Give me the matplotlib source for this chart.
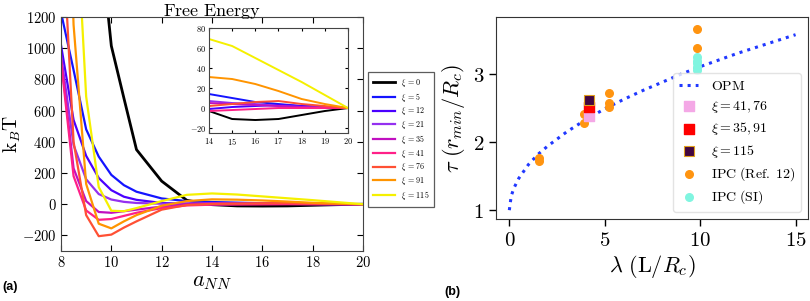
import numpy as np
import matplotlib
matplotlib.use('Agg')
import matplotlib.pyplot as plt
from matplotlib.ticker import FuncFormatter

plt.rcParams['mathtext.fontset'] = 'cm'
plt.rcParams['font.family'] = 'DejaVu Serif'

# ---- panel (a): free energy curves ----
a_nn = [8, 8.5, 9, 9.5, 10, 10.5, 11, 12, 13, 14, 15, 16, 17, 18, 19, 20]
xi_labels = ['0', '5', '12', '21', '35', '41', '76', '91', '115']
xi_colors = ['#000000', '#1414ff', '#4a00ff', '#9430f0', '#c010c0',
             '#ff2088', '#ff5034', '#ff9400', '#f5f000']
fe_0 = [9000, 6000, 3600, 1800, 1015, 680, 350, 148, 25, -3, -11, -12, -11, -7, -3, 0]
fe_5 = [1230, 860, 480, 305, 188, 122, 80, 37, 20, 14, 10, 6, 4, 2, 1, 0]
fe_12 = [1020, 540, 310, 168, 90, 48, 28, 8, 2, -1, 1, 2, 3, 2, 1, 0]
fe_21 = [960, 380, 160, 65, 30, 15, 8, 3, 5, 7, 5, 4, 2, 1, 0.5, 0]
fe_35 = [940, 230, 20, -50, -55, -45, -35, -15, 0, 5, 4, 3, 2, 1, 0.5, 0]
fe_41 = [920, 180, -40, -100, -95, -75, -55, -25, -8, -3, -2, -1, 0, 0, 0, 0]
fe_76 = [1950, 400, -70, -205, -195, -150, -110, -35, -5, 2, 4, 6, 7, 4, 2, 0]
fe_91 = [3500, 1150, 130, -125, -155, -110, -70, -10, 20, 31, 29, 24, 17, 9, 4, 0]
fe_115 = [5000, 2200, 690, 110, -42, -45, -25, 20, 60, 69, 62, 50, 38, 26, 13, 0]
fe_all = [fe_0, fe_5, fe_12, fe_21, fe_35, fe_41, fe_76, fe_91, fe_115]

# ---- panel (b): tau vs lambda ----
opm_lam = [0, 0.1, 0.25, 0.5, 1, 1.5, 2, 3, 4, 5, 6, 7, 8, 9, 10, 11, 12, 13, 14, 15]
opm_tau = [1.0, 1.21, 1.33, 1.47, 1.67, 1.82, 1.94, 2.15, 2.33, 2.49, 2.63, 2.76,
           2.88, 3.0, 3.11, 3.21, 3.31, 3.40, 3.49, 3.58]
ref12_lam = [1.57, 1.57, 3.9, 3.9, 5.23, 5.23, 5.23, 9.85, 9.85]
ref12_tau = [1.72, 1.77, 2.28, 2.42, 2.52, 2.58, 2.73, 3.39, 3.67]
si_lam = [9.85, 9.85, 9.85, 9.85, 9.85]
si_tau = [3.06, 3.1, 3.16, 3.2, 3.25]
sq_lam = 4.2
sq_41_76 = 2.38
sq_35_91 = 2.51
sq_115 = 2.625

# tick labels in computer modern via mathtext
cmfmt = FuncFormatter(lambda v, p: r'$%g$' % v)

fig = plt.figure(figsize=(8.1, 3.01), dpi=100)

ax1 = fig.add_axes([0.0753, 0.1661, 0.3728, 0.7774])
for vals, lab, col in zip(fe_all, xi_labels, xi_colors):
    ax1.plot(a_nn, vals, color=col, lw=1.6 if lab != '0' else 2.0,
             label=r'$\xi\, =\, %s$' % lab)
ax1.set_xlim(8, 20)
ax1.set_ylim(-300, 1200)
ax1.set_xticks(range(8, 21, 2))
ax1.set_yticks(range(-200, 1201, 200))
ax1.xaxis.set_major_formatter(cmfmt)
ax1.yaxis.set_major_formatter(cmfmt)
ax1.tick_params(direction='in', top=True, right=True, labelsize=10.5, length=4,
                pad=3)
ax1.set_xlabel(r'$a_{NN}$', fontsize=16, labelpad=0)
ax1.set_ylabel(r'$\mathrm{k}_B\mathrm{T}$', fontsize=14)
ax1.yaxis.set_label_coords(-0.125, 0.5)
ax1.set_title(r'$\mathrm{Free\ Energy}$', fontsize=13, pad=1)
for s in ax1.spines.values():
    s.set_color('#444444')

axin = fig.add_axes([0.258, 0.5581, 0.1716, 0.3488])
for vals, col in zip(fe_all, xi_colors):
    axin.plot(a_nn, vals, color=col, lw=1.4)
axin.set_xlim(14, 20)
axin.set_ylim(-25, 80)
axin.set_xticks(range(14, 21))
axin.set_yticks(range(-20, 81, 20))
axin.xaxis.set_major_formatter(cmfmt)
axin.yaxis.set_major_formatter(cmfmt)
axin.tick_params(direction='in', top=True, right=True, labelsize=6,
                 length=2, pad=2)
for s in axin.spines.values():
    s.set_color('#444444')

h, l = ax1.get_legend_handles_labels()
leg1 = fig.legend(h, l, loc='upper left', bbox_to_anchor=(0.4543, 0.7608),
                  fontsize=5.8, frameon=True, fancybox=False, handlelength=2.7,
                  labelspacing=0.22, borderpad=0.6, handletextpad=0.8,
                  borderaxespad=0)
leg1.get_frame().set_edgecolor('#333333')
leg1.get_frame().set_linewidth(0.9)

ax2 = fig.add_axes([0.6123, 0.2724, 0.3852, 0.6711])
ax2.plot(opm_lam, opm_tau, ':', color='#2038ff', lw=2.2,
         label=r'$\mathrm{OPM}$')
ax2.scatter(ref12_lam, ref12_tau, s=30, color='#ff9410', zorder=3,
            label=r'$\mathrm{IPC\ (Ref.\ 12)}$')
ax2.scatter(si_lam, si_tau, s=30, color='#80f5e0', zorder=3,
            label=r'$\mathrm{IPC\ (SI)}$')
ax2.scatter([sq_lam], [sq_41_76], s=42, marker='s', color='#f4a8e6', zorder=4,
            label=r'$\xi = 41, 76$')
ax2.scatter([sq_lam], [sq_35_91], s=42, marker='s', color='#ff0000', zorder=4,
            label=r'$\xi = 35, 91$')
ax2.scatter([sq_lam], [sq_115], s=42, marker='s', color='#420640',
            edgecolors='#e0a020', linewidths=0.8, zorder=4, label=r'$\xi = 115$')
ax2.set_xlim(-0.7, 15.65)
ax2.set_ylim(0.87, 3.84)
ax2.set_xticks([0, 5, 10, 15])
ax2.set_yticks([1, 2, 3])
ax2.xaxis.set_major_formatter(cmfmt)
ax2.yaxis.set_major_formatter(cmfmt)
ax2.tick_params(direction='out', labelsize=15, length=5, width=1)
ax2.set_xlabel(r'$\lambda\ (\mathrm{L}/R_c)$', fontsize=16, labelpad=2)
ax2.set_ylabel(r'$\tau\ (r_{min}/R_c)$', fontsize=16, labelpad=4)
for s in ax2.spines.values():
    s.set_color('#333333')

h2, l2 = ax2.get_legend_handles_labels()
order = [0, 3, 4, 5, 1, 2]
leg2 = ax2.legend([h2[i] for i in order], [l2[i] for i in order],
                  loc='lower right', bbox_to_anchor=(0.978, 0.035), fontsize=10,
                  fancybox=True, framealpha=0.8, edgecolor='#dddddd',
                  handlelength=1.4, labelspacing=0.4, borderpad=0.4,
                  borderaxespad=0, handletextpad=0.9)

fig.text(0.003, 0.035, '(a)', fontsize=9, fontweight='bold',
         family='Liberation Sans')
fig.text(0.549, 0.02, '(b)', fontsize=9, fontweight='bold',
         family='Liberation Sans')

fig.savefig('out.png', dpi=100)
